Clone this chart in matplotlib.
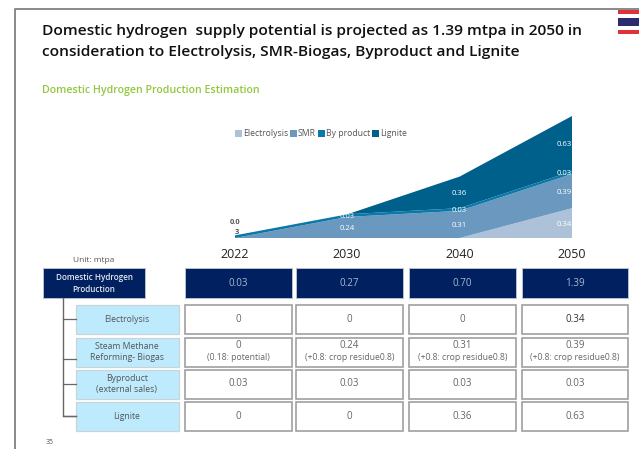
import numpy as np
import matplotlib
matplotlib.use('Agg')
import matplotlib.pyplot as plt
from matplotlib.patches import Rectangle, Patch

plt.rcParams['font.family'] = ['Open Sans', 'DejaVu Sans']

years = ['2022', '2030', '2040', '2050']
electrolysis = [0, 0, 0, 0.34]
smr = [0, 0.24, 0.31, 0.39]
byproduct = [0.03, 0.03, 0.03, 0.03]
lignite = [0, 0, 0.36, 0.63]
totals = ['0.03', '0.27', '0.70', '1.39']

series_names = ['Electrolysis', 'SMR', 'By product', 'Lignite']
series_colors = ['#adc2d9', '#6a98bf', '#0a78a8', '#00608c']

row_names = ['Electrolysis', 'Steam Methane\nReforming- Biogas',
             'Byproduct\n(external sales)', 'Lignite']
row_electrolysis = ['0', '0', '0', '0.34']
row_smr = ['0\n(0.18: potential)', '0.24\n(+0.8: crop residue0.8)',
           '0.31\n(+0.8: crop residue0.8)', '0.39\n(+0.8: crop residue0.8)']
row_byproduct = ['0.03', '0.03', '0.03', '0.03']
row_lignite = ['0', '0', '0.36', '0.63']

W, H = 639, 449
fig = plt.figure(figsize=(W / 100, H / 100), dpi=100)

# page layer in pixel coordinates
bg = fig.add_axes([0, 0, 1, 1])
bg.set_xlim(0, W)
bg.set_ylim(H, 0)
bg.axis('off')

bg.plot([14.5, 14.5, W], [H, 9, 9], color='#808080', lw=1.3)

# flag
for y0, h, c in [(10, 4, '#e0303a'), (18, 8, '#2d2a6e'), (30, 4, '#e0303a')]:
    bg.add_patch(Rectangle((618, y0), 21, h, fc=c, ec='none'))

bg.text(42, 31, 'Domestic hydrogen  supply potential is projected as 1.39 mtpa in 2050 in',
        fontsize=11.15, fontweight='semibold', color='#111111', va='center')
bg.text(42, 52, 'consideration to Electrolysis, SMR-Biogas, Byproduct and Lignite',
        fontsize=11.15, fontweight='semibold', color='#111111', va='center')
bg.text(42, 90, 'Domestic Hydrogen Production Estimation', fontsize=7.7,
        fontweight='semibold', color='#92c83e', va='center')

# area chart
ax = fig.add_axes([235 / W, 1 - 238 / H, (572 - 235) / W, (238 - 116) / H])
x = np.arange(len(years))
ax.stackplot(x, electrolysis, smr, byproduct, lignite, colors=series_colors, lw=0)
ax.set_xlim(0, 3)
ax.set_ylim(0, 1.39)
ax.axis('off')

bottom = np.zeros(4)
for vals in [electrolysis, smr, byproduct, lignite]:
    for i, v in enumerate(vals):
        if v == 0 or i == 0:
            continue
        off = -8 if i == 3 else 0
        ax.annotate(f'{v:.2f}', (x[i], bottom[i] + v / 2), xytext=(off, -1),
                    textcoords='offset pixels', ha='center', va='center',
                    fontsize=5.6, color='white', annotation_clip=False, clip_on=True)
    bottom = bottom + np.array(vals)
bg.text(235, 222, '0.0', fontsize=5.4, fontweight='bold', color='#555555',
        ha='center', va='center')
bg.text(237, 232, '3', fontsize=5.4, fontweight='bold', color='#555555',
        ha='center', va='center')

handles = [Patch(fc=c, ec='none') for c in series_colors]
fig.legend(handles, series_names, loc='center left', ncol=4, frameon=False,
           bbox_to_anchor=(235 / W, 1 - 134 / H), fontsize=6.2, labelcolor='#555555',
           handlelength=0.8, handleheight=0.8, handletextpad=0.1, columnspacing=0.25,
           borderpad=0, borderaxespad=0)

# table
col_x = [(185, 292), (296, 403), (409, 516), (522, 628)]
row_y = [(305, 334), (337.5, 366.5), (369.5, 398.5), (401.5, 431)]
branch_y = [319, 358.5, 384, 416]
rows = [row_electrolysis, row_smr, row_byproduct, row_lignite]

for (x0, x1), yr in zip(col_x, years):
    bg.text((x0 + x1) / 2 - 4 if yr == '2022' else (x0 + x1) / 2 - 3, 254, yr,
            fontsize=9, color='#222222', ha='center', va='center')
bg.text(94, 260, 'Unit: mtpa', fontsize=6, color='#555555', ha='center', va='center')

bg.add_patch(Rectangle((43, 268), 102, 30, fc='#002060', ec='#b8c0cc', lw=0.7))
bg.text(94, 283.5, 'Domestic Hydrogen\nProduction', fontsize=5.9, fontweight='semibold',
        color='#e6eaf2', ha='center', va='center', linespacing=1.35)

for (x0, x1), t in zip(col_x, totals):
    bg.add_patch(Rectangle((x0, 268), x1 - x0, 30, fc='#002060', ec='#b8c0cc', lw=0.7))
    bg.text((x0 + x1) / 2, 283.5, t, fontsize=7.1, color='#a8b6d0', ha='center', va='center')

bg.plot([62.5, 62.5, 76], [298, 416, 416], color='#666666', lw=1)
for (y0, y1), by, name in zip(row_y, branch_y, row_names):
    ym = (y0 + y1) / 2
    bg.plot([62.5, 76], [by, by], color='#666666', lw=0.9)
    bg.add_patch(Rectangle((76, y0), 103, y1 - y0, fc='#bdeafc', ec='#c8d4da', lw=0.9))
    bg.text(127, ym, name, fontsize=6.2, color='#555555', ha='center', va='center',
            linespacing=1.35)

for (y0, y1), row in zip(row_y, rows):
    for (x0, x1), t in zip(col_x, row):
        bg.add_patch(Rectangle((x0, y0), x1 - x0, y1 - y0, fc='white', ec='#a0a0a0', lw=1.2))
        xm, ym = (x0 + x1) / 2, (y0 + y1) / 2
        c = '#333333' if t == '0.34' else '#666666'
        if '\n' in t:
            top, sub = t.split('\n')
            bg.text(xm, ym - 6, top, fontsize=7, color=c, ha='center', va='center')
            bg.text(xm, ym + 6, sub, fontsize=6.2, color=c, ha='center', va='center')
        else:
            bg.text(xm, ym, t, fontsize=7, color=c, ha='center', va='center')

bg.text(50, 442, '35', fontsize=5, color='#555555', ha='center', va='center')

fig.savefig('out.png', dpi=100)
